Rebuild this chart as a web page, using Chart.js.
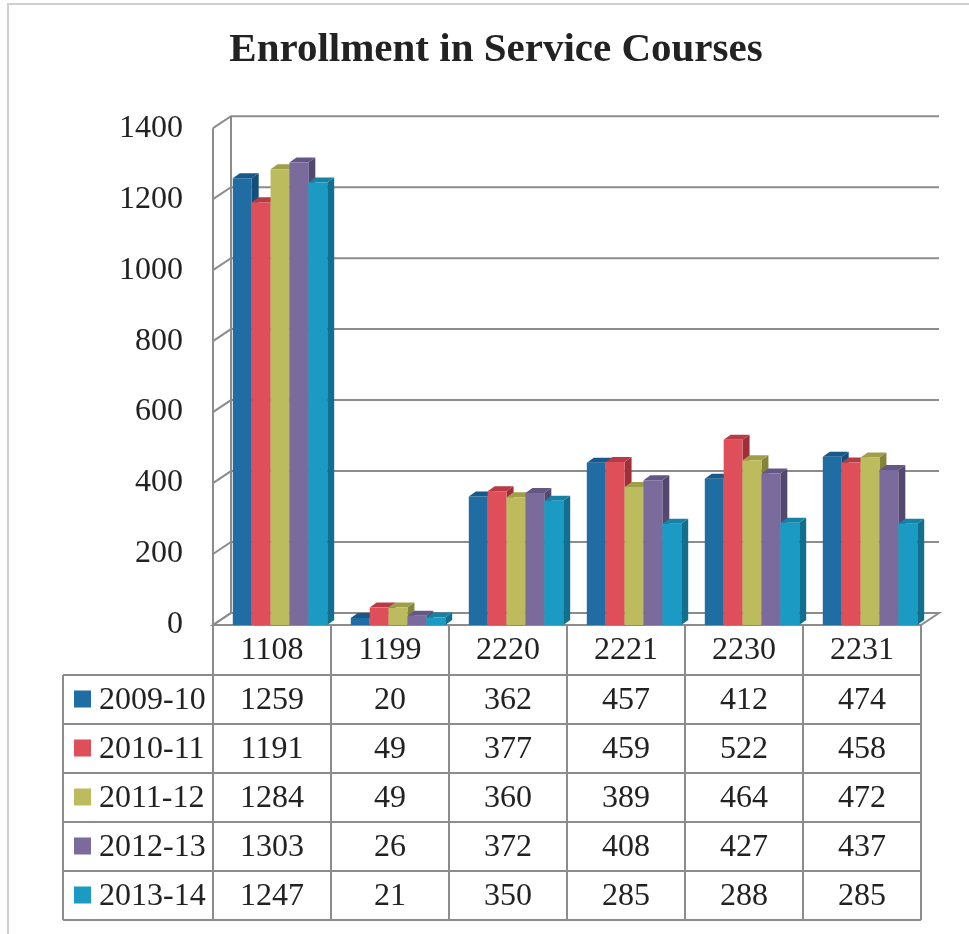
<!DOCTYPE html>
<html>
<head>
<meta charset="utf-8">
<title>Enrollment in Service Courses</title>
<script src="https://cdn.jsdelivr.net/npm/chart.js@4.4.1/dist/chart.umd.min.js"></script>
<style>
  body { margin: 0; background: #fff; }
  #wrap { width: 969px; height: 934px; }
</style>
</head>
<body>
<div id="wrap"><canvas id="chart" width="969" height="934"></canvas></div>
<script>
// data (also printed in its table)
const courses = ['1108', '1199', '2220', '2221', '2230', '2231'];
const years = ['2009-10', '2010-11', '2011-12', '2012-13', '2013-14'];
const y0910 = [1259, 20, 362, 457, 412, 474];
const y1011 = [1191, 49, 377, 459, 522, 458];
const y1112 = [1284, 49, 360, 389, 464, 472];
const y1213 = [1303, 26, 372, 408, 427, 437];
const y1314 = [1247, 21, 350, 285, 288, 285];
const yMax = 1400;
const yStep = 200;

const fronts = ['#1f6da3', '#de4f5a', '#bcbc5f', '#7b6b9d', '#1b9bc3'];
const sides  = ['#134f78', '#9e2f38', '#85843b', '#544871', '#126f8e'];
const tops   = ['#17598a', '#b83a44', '#a09f48', '#645785', '#1582a6'];

const FONT = "'Liberation Serif', 'Times New Roman', serif";
const INK = '#222';
const LINE = '#8c8c8c';

// 3d offsets
const WALL_DX = 18, WALL_DY = -12;
const BAR_DX = 7, BAR_DY = -5;
const BAR_SHIFT = 8;   // bars stand halfway into the depth of the floor

const seriesData = [y0910, y1011, y1112, y1213, y1314];

// back wall, side wall, floor and 3d bars
const wallPlugin = {
  id: 'wall',
  beforeDatasetsDraw(chart) {
    const ctx = chart.ctx;
    const a = chart.chartArea;
    const ys = chart.scales.y;
    ctx.save();
    ctx.strokeStyle = LINE;
    ctx.lineWidth = 2;
    // floor
    ctx.beginPath();
    ctx.moveTo(a.left, a.bottom);
    ctx.lineTo(a.left + WALL_DX, a.bottom + WALL_DY);
    ctx.lineTo(a.right + WALL_DX, a.bottom + WALL_DY);
    ctx.lineTo(a.right, a.bottom);
    ctx.closePath();
    ctx.fillStyle = '#fff';
    ctx.fill();
    ctx.stroke();
    // gridlines on the back wall + ticks on the side wall
    ys.ticks.forEach(t => {
      const y = ys.getPixelForValue(t.value);
      ctx.beginPath();
      ctx.moveTo(a.left, y);
      ctx.lineTo(a.left + WALL_DX, y + WALL_DY);
      ctx.lineTo(a.right + WALL_DX, y + WALL_DY);
      ctx.stroke();
    });
    // wall edges
    ctx.beginPath();
    ctx.moveTo(a.left, a.bottom);
    ctx.lineTo(a.left, a.top);
    ctx.moveTo(a.left + WALL_DX, a.bottom + WALL_DY);
    ctx.lineTo(a.left + WALL_DX, a.top + WALL_DY);
    ctx.stroke();
    ctx.restore();
  },
  beforeDatasetDraw() {
    // bars are drawn below, left to right, with their faces
    return false;
  },
  afterDatasetsDraw(chart) {
    const ctx = chart.ctx;
    ctx.save();
    ctx.translate(BAR_SHIFT, 0);
    chart.data.datasets.forEach((ds, i) => {
      const meta = chart.getDatasetMeta(i);
      meta.data.forEach(bar => {
        const p = bar.getProps(['x', 'y', 'base', 'width'], true);
        const l = p.x - p.width / 2, r = p.x + p.width / 2;
        // side
        ctx.fillStyle = sides[i];
        ctx.beginPath();
        ctx.moveTo(r, p.base);
        ctx.lineTo(r + BAR_DX, p.base + BAR_DY);
        ctx.lineTo(r + BAR_DX, p.y + BAR_DY);
        ctx.lineTo(r, p.y);
        ctx.closePath();
        ctx.fill();
        // top
        ctx.fillStyle = tops[i];
        ctx.beginPath();
        ctx.moveTo(l, p.y);
        ctx.lineTo(l + BAR_DX, p.y + BAR_DY);
        ctx.lineTo(r + BAR_DX, p.y + BAR_DY);
        ctx.lineTo(r, p.y);
        ctx.closePath();
        ctx.fill();
        bar.draw(ctx);
      });
    });
    ctx.restore();
  }
};

// data table under the plot
const tablePlugin = {
  id: 'table',
  afterDraw(chart) {
    const ctx = chart.ctx;
    const a = chart.chartArea;
    const xs = chart.scales.x;
    const headTop = a.bottom;
    const rowTop = xs.bottom;      // first data row starts below the axis labels
    const rowH = 49;
    const tableLeft = 63;
    const tableBottom = rowTop + rowH * years.length;
    const step = (a.right - a.left) / courses.length;

    ctx.save();
    // outer frame of the chart
    ctx.strokeStyle = '#cfcfcf';
    ctx.lineWidth = 2;
    ctx.beginPath();
    ctx.moveTo(8, 934);
    ctx.lineTo(8, 4);
    ctx.lineTo(969, 4);
    ctx.stroke();

    ctx.strokeStyle = LINE;
    ctx.lineWidth = 2;
    ctx.beginPath();
    for (let r = 0; r <= years.length; r++) {
      const y = rowTop + r * rowH;
      ctx.moveTo(tableLeft, y);
      ctx.lineTo(a.right, y);
    }
    ctx.moveTo(tableLeft, rowTop);
    ctx.lineTo(tableLeft, tableBottom);
    for (let c = 0; c <= courses.length; c++) {
      const x = a.left + c * step;
      ctx.moveTo(x, headTop);
      ctx.lineTo(x, tableBottom);
    }
    ctx.stroke();

    ctx.font = '32px ' + FONT;
    ctx.fillStyle = INK;
    ctx.textBaseline = 'middle';
    years.forEach((yr, r) => {
      const cy = rowTop + r * rowH + rowH / 2;
      ctx.fillStyle = fronts[r];
      ctx.fillRect(74, cy - 9, 17, 17);
      ctx.fillStyle = INK;
      ctx.textAlign = 'left';
      ctx.fillText(yr, 99, cy + 1);
      ctx.textAlign = 'center';
      seriesData[r].forEach((v, c) => {
        ctx.fillText(String(v), xs.getPixelForValue(c), cy + 1);
      });
    });
    ctx.restore();
  }
};

const datasets = years.map((yr, i) => ({
  label: yr,
  data: seriesData[i],
  backgroundColor: fronts[i],
  borderWidth: 0,
  categoryPercentage: 0.8,
  barPercentage: 1.0
}));

new Chart(document.getElementById('chart'), {
  type: 'bar',
  data: { labels: courses, datasets: datasets },
  options: {
    responsive: false,
    animation: false,
    layout: { padding: { left: 23, right: 0, top: 0, bottom: 259 } },
    plugins: {
      legend: { display: false },
      tooltip: { enabled: false },
      title: {
        display: true,
        text: 'Enrollment in Service Courses',
        color: INK,
        font: { family: FONT, size: 41, weight: 'bold', lineHeight: 1.2 },
        padding: { top: 26, bottom: 53 }
      }
    },
    scales: {
      x: {
        grid: { display: false, drawTicks: false },
        border: { display: false },
        ticks: { color: INK, font: { family: FONT, size: 32 }, padding: 6, maxRotation: 0 },
        afterFit(scale) { scale.height = 50; }
      },
      y: {
        min: 0,
        max: yMax,
        grid: { display: false, drawTicks: false },
        border: { display: false },
        ticks: {
          stepSize: yStep,
          color: INK,
          font: { family: FONT, size: 32 },
          padding: 30,
          callback: v => String(v)
        },
        afterFit(scale) { scale.width = 190; }
      },
      // empty strip on the right, where the back wall runs out
      y2: {
        position: 'right',
        min: 0,
        max: yMax,
        grid: { display: false, drawTicks: false },
        border: { display: false },
        ticks: { display: false },
        afterFit(scale) { scale.width = 48; }
      }
    }
  },
  plugins: [wallPlugin, tablePlugin]
});
</script>
</body>
</html>
